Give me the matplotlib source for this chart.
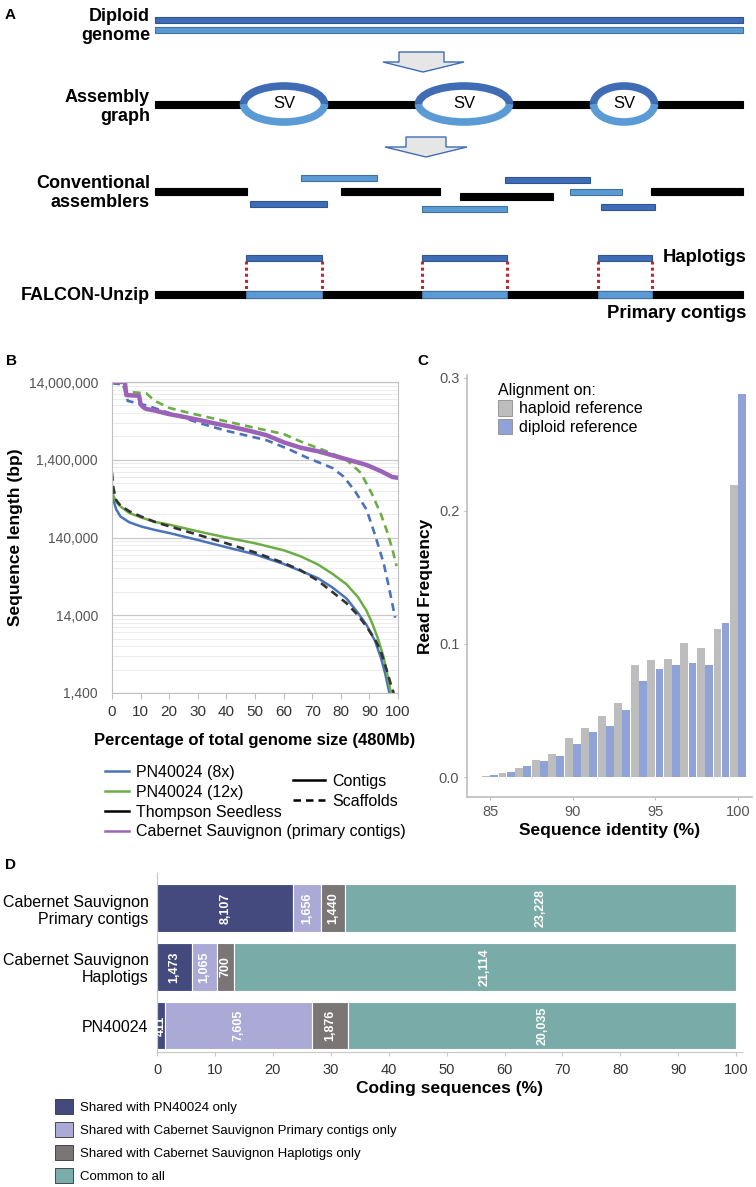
import numpy as np
import matplotlib
matplotlib.use('Agg')
import matplotlib.pyplot as plt
from matplotlib.patches import Rectangle, Arc, Polygon, Patch
from matplotlib.lines import Line2D
from matplotlib.ticker import FixedLocator, NullFormatter

plt.rcParams['font.family'] = ['Liberation Sans', 'DejaVu Sans']

W, H = 756, 1187

# ---- panel A: schematic segments (x0, x1, y centre) ----
bubbles = [(284, 81), (464, 91), (624, 61)]
conv_black = [(155, 247, 191), (341, 440, 191), (460, 553, 196), (651, 743, 191)]
conv_light = [(301, 377, 178), (422, 507, 209), (570, 622, 192)]
conv_dark = [(250, 327, 204), (505, 590, 180), (601, 655, 207)]
unzip_bubbles = [(246, 322), (422, 507), (598, 652)]

# ---- panel B: contiguity curves ----
pct_pn8_ctg = [0, 0.5, 1.5, 3, 6, 10, 15, 20, 30, 40, 50, 60, 66, 72, 77, 82, 86, 89, 92, 94, 95.5, 96.5, 97]
len_pn8_ctg = [570e3, 420e3, 320e3, 260e3, 220e3, 195e3, 175e3, 160e3, 130e3, 105e3, 85e3, 64e3, 52e3,
               42e3, 32e3, 23e3, 15e3, 10.5e3, 6.5e3, 4e3, 2.5e3, 1.7e3, 1.4e3]
pct_pn12_ctg = [0, 0.5, 1.5, 3, 6, 10, 15, 20, 30, 40, 50, 60, 66, 72, 77, 82, 86, 89, 91, 93, 95, 96.5, 97.5]
len_pn12_ctg = [660e3, 480e3, 400e3, 350e3, 290e3, 255e3, 222e3, 205e3, 168e3, 140e3, 118e3, 96e3, 80e3,
                63e3, 48e3, 35e3, 24e3, 16e3, 11e3, 7e3, 4e3, 2.2e3, 1.4e3]
pct_ts_scf = [0, 0.5, 1.5, 3, 6, 10, 15, 20, 30, 40, 50, 60, 66, 72, 77, 82, 86, 89, 92, 94, 96, 97.5, 98.5]
len_ts_scf = [950e3, 600e3, 420e3, 360e3, 305e3, 262e3, 222e3, 195e3, 152e3, 118e3, 90e3, 66e3, 53e3,
              39e3, 28e3, 20e3, 14e3, 10e3, 6.8e3, 4.8e3, 2.8e3, 1.8e3, 1.4e3]
pct_pn8_scf = [0, 4, 5.5, 12, 20, 31, 40, 54, 62, 68, 77, 81, 85, 89, 92, 95, 97, 99]
len_pn8_scf = [13.5e6, 13e6, 8e6, 7e6, 5.6e6, 4.1e6, 3.3e6, 2.5e6, 1.9e6, 1.5e6, 1.1e6, 0.85e6, 0.55e6,
               0.32e6, 0.15e6, 0.065e6, 0.03e6, 0.013e6]
pct_pn12_scf = [0, 3, 5, 12, 15, 20, 27, 35, 42, 50, 60, 66, 75, 82, 87, 91, 94, 96, 98, 99.5]
len_pn12_scf = [14e6, 14e6, 10.5e6, 10e6, 8e6, 6.5e6, 5.6e6, 4.8e6, 4.2e6, 3.6e6, 3.0e6, 2.4e6, 1.8e6,
                1.4e6, 0.95e6, 0.5e6, 0.28e6, 0.175e6, 0.1e6, 0.06e6]
pct_cs = [0, 4.5, 5, 9.5, 10, 11, 12, 15, 20, 25, 31, 36, 42, 48, 54, 60, 66, 72, 77, 82, 89, 94, 98, 100]
len_cs = [14e6, 14e6, 9.5e6, 9.3e6, 7.2e6, 6.6e6, 6.3e6, 6.0e6, 5.4e6, 5.0e6, 4.5e6, 4.1e6, 3.7e6, 3.3e6,
          2.9e6, 2.35e6, 2.0e6, 1.8e6, 1.6e6, 1.42e6, 1.2e6, 1.0e6, 0.84e6, 0.82e6]
len_ticks = [1400, 14000, 140000, 1400000, 14000000]

# ---- panel C: read identity ----
identity = np.arange(85, 101)
freq_haploid = [0.001, 0.003, 0.007, 0.0125, 0.017, 0.029, 0.037, 0.0455, 0.0555, 0.084, 0.088, 0.089,
                0.101, 0.097, 0.111, 0.219]
freq_diploid = [0.0015, 0.0035, 0.008, 0.012, 0.0155, 0.025, 0.0335, 0.038, 0.05, 0.072, 0.081, 0.084,
                0.086, 0.0845, 0.1155, 0.288]

# ---- panel D: coding sequences ----
assemblies = ['Cabernet Sauvignon\nPrimary contigs', 'Cabernet Sauvignon\nHaplotigs', 'PN40024']
cat_names = ['Shared with PN40024 only', 'Shared with Cabernet Sauvignon Primary contigs only',
             'Shared with Cabernet Sauvignon Haplotigs only', 'Common to all']
cds_counts = [[8107, 1656, 1440, 23228],
              [1473, 1065, 700, 21114],
              [411, 7605, 1876, 20035]]
cat_colors = ['#454a7e', '#abaad6', '#7b7676', '#79aba9']

DARK = '#3f6cb4'
LIGHT = '#5b9bd5'


def px_axes(x0, y0, x1, y1):
    return fig.add_axes([x0 / W, 1 - y1 / H, (x1 - x0) / W, (y1 - y0) / H])


fig = plt.figure(figsize=(W / 100, H / 100), dpi=100)

# ================= A =================
axA = px_axes(0, 0, W, 330)
axA.set_xlim(0, W)
axA.set_ylim(330, 0)
axA.axis('off')


def seg(ax, x0, x1, yc, h, color, edge=None):
    ax.add_patch(Rectangle((x0, yc - h / 2), x1 - x0, h, facecolor=color,
                           edgecolor=edge if edge else color, lw=0.8))


seg(axA, 155, 743, 20, 6, DARK, '#2f5597')
seg(axA, 155, 743, 30, 6, LIGHT, '#41719c')

# block arrows
for top, mid, tip, sl, sr, hl, hr, tx in [(52, 62, 72, 399, 444, 383, 464, 423),
                                           (137, 147, 157, 406, 446, 385, 467, 426)]:
    axA.add_patch(Polygon([(sl, top), (sr, top), (sr, mid), (hr, mid), (tx, tip), (hl, mid), (sl, mid)],
                          closed=True, facecolor='#e6e6e6', edgecolor='#3f6cb4', lw=1))

# assembly graph
ends = [155] + [v for c, w in bubbles for v in (c - w / 2, c + w / 2)] + [743]
for i in range(0, len(ends), 2):
    seg(axA, ends[i], ends[i + 1], 104, 7, 'black')
for c, w in bubbles:
    axA.add_patch(Arc((c, 104), w, 36, theta1=180, theta2=360, color=DARK, lw=5.5))
    axA.add_patch(Arc((c, 104), w, 36, theta1=0, theta2=180, color=LIGHT, lw=5.5))
    axA.text(c, 104, 'SV', ha='center', va='center', fontsize=12)

# conventional assemblers
for x0, x1, y in conv_black:
    seg(axA, x0, x1, y, 7, 'black')
for x0, x1, y in conv_light:
    seg(axA, x0, x1, y, 6, LIGHT, '#41719c')
for x0, x1, y in conv_dark:
    seg(axA, x0, x1, y, 6, DARK, '#2f5597')

# FALCON-Unzip
seg(axA, 155, 743, 294, 7, 'black')
for x0, x1 in unzip_bubbles:
    seg(axA, x0, x1, 294, 7, LIGHT, '#41719c')
    seg(axA, x0, x1, 258, 6, DARK, '#2f5597')
    for xx in (x0, x1):
        axA.plot([xx, xx], [261, 291], color='#c0282d', lw=2.2, ls=(0, (1, 1)))

lab = dict(ha='right', va='center', fontsize=13, fontweight='bold', linespacing=1.1)
axA.text(150, 26, 'Diploid\ngenome', **lab)
axA.text(150, 107, 'Assembly\ngraph', **lab)
axA.text(150, 193, 'Conventional\nassemblers', **lab)
axA.text(150, 295, 'FALCON-Unzip', **lab)
axA.text(663, 257, 'Haplotigs', ha='left', va='center', fontsize=13.3, fontweight='bold')
axA.text(746, 313, 'Primary contigs', ha='right', va='center', fontsize=13.3, fontweight='bold')
axA.text(5, 15, 'A', ha='left', va='center', fontsize=11, fontweight='bold')

# ================= B =================
axB = px_axes(112, 382, 398, 693)
blue, green, purple = '#4a73b9', '#6cae46', '#9b62b8'
axB.plot(pct_pn8_scf, len_pn8_scf, color=blue, lw=1.9, dashes=(3, 2))
axB.plot(pct_pn12_scf, len_pn12_scf, color=green, lw=1.9, dashes=(3, 2))
axB.plot(pct_cs, len_cs, color=purple, lw=3.2)
axB.plot(pct_pn8_ctg, len_pn8_ctg, color=blue, lw=1.8)
axB.plot(pct_pn12_ctg, len_pn12_ctg, color=green, lw=1.8)
axB.plot(pct_ts_scf, len_ts_scf, color='#333333', lw=1.9, dashes=(3, 2))
axB.set_yscale('log')
axB.set_ylim(1400, 14000000)
axB.set_xlim(0, 100)
axB.yaxis.set_major_locator(FixedLocator(len_ticks))
axB.yaxis.set_minor_locator(FixedLocator([t * k for t in len_ticks[:-1] for k in range(2, 10)]))
axB.yaxis.set_minor_formatter(NullFormatter())
axB.set_yticklabels([f'{t:,}' for t in len_ticks])
axB.set_xticks(range(0, 101, 10))
axB.grid(axis='y', which='major', color='#c8c8c8', lw=0.9)
axB.grid(axis='y', which='minor', color='#ececec', lw=0.7)
axB.set_axisbelow(True)
for s in axB.spines.values():
    s.set_color('#c0c0c0')
axB.tick_params(axis='y', which='both', length=0, labelsize=10, labelcolor='#555555', pad=10)
axB.tick_params(axis='x', length=4, color='#c0c0c0', labelsize=11, labelcolor='#333333', pad=5)
axB.set_xlabel('Percentage of total genome size (480Mb)', fontsize=12, fontweight='bold', labelpad=10)
axB.set_ylabel('Sequence length (bp)', fontsize=12.5, fontweight='bold', labelpad=4)
fig.text(6 / W, 1 - 361 / H, 'B', ha='left', va='center', fontsize=11, fontweight='bold')

h1 = [Line2D([], [], color=c, lw=1.8) for c in (blue, green, 'black', purple)]
fig.legend(h1, ['PN40024 (8x)', 'PN40024 (12x)', 'Thompson Seedless',
                'Cabernet Sauvignon (primary contigs)'],
           loc='upper left', bbox_to_anchor=(97 / W, 1 - 757 / H), frameon=False,
           fontsize=11.5, handlelength=1.5, handletextpad=0.45, labelspacing=0.3, borderpad=0)
h2 = [Line2D([], [], color='black', lw=1.8), Line2D([], [], color='black', lw=1.8, dashes=(3, 2))]
fig.legend(h2, ['Contigs', 'Scaffolds'], loc='upper left', bbox_to_anchor=(285 / W, 1 - 766 / H),
           frameon=False, fontsize=11.5, handlelength=2.0, handletextpad=0.45, labelspacing=0.3,
           borderpad=0)

# ================= C =================
axC = px_axes(467, 375, 752, 797)
axC.bar(identity - 0.245, freq_haploid, width=0.47, color='#bdbdbd', label='haploid reference')
axC.bar(identity + 0.245, freq_diploid, width=0.47, color='#8fa3d8', label='diploid reference')
axC.set_xlim(83.6, 100.85)
axC.set_ylim(-0.015, 0.302)
axC.set_xticks([85, 90, 95, 100])
axC.set_yticks([0.0, 0.1, 0.2, 0.3])
axC.set_yticklabels(['0.0', '0.1', '0.2', '0.3'])
for s in ('top', 'right'):
    axC.spines[s].set_visible(False)
for s in ('left', 'bottom'):
    axC.spines[s].set_color('#bdbdbd')
    axC.spines[s].set_linewidth(1.2)
axC.tick_params(length=2.5, color='#bdbdbd', labelsize=10.5, labelcolor='#555555', pad=3)
axC.set_xlabel('Sequence identity (%)', fontsize=12.5, fontweight='bold', labelpad=3)
axC.set_ylabel('Read Frequency', fontsize=12.5, fontweight='bold', labelpad=4)
hC = [Patch(facecolor='#bdbdbd', edgecolor='#8c8c8c', lw=0.6),
      Patch(facecolor='#8fa3d8', edgecolor='#8c8c8c', lw=0.6)]
axC.legend(hC, ['haploid reference', 'diploid reference'], title='Alignment on:', loc='upper left',
           bbox_to_anchor=(0.08, 1.0), frameon=False, fontsize=11.5, title_fontsize=11.5,
           handlelength=0.9, handleheight=1.1, handletextpad=0.4, labelspacing=0.15,
           alignment='left', borderpad=0)
fig.text(417 / W, 1 - 361 / H, 'C', ha='left', va='center', fontsize=11, fontweight='bold')

# ================= D =================
axD = px_axes(157, 873, 742, 1052)
counts = np.array(cds_counts, dtype=float)
pcts = counts / counts.sum(axis=1, keepdims=True) * 100
ypos = np.arange(len(assemblies))
left = np.zeros(len(assemblies))
for j in range(len(cat_names)):
    axD.barh(ypos, pcts[:, j], left=left, height=0.81, color=cat_colors[j], edgecolor='white', lw=0.8)
    for i in range(len(assemblies)):
        axD.text(left[i] + pcts[i, j] / 2, ypos[i], f'{int(counts[i, j]):,}', rotation=90,
                 ha='center', va='center', color='white', fontsize=9, fontweight='bold')
    left += pcts[:, j]
axD.set_ylim(2.45, -0.6)
axD.set_xlim(0, 101)
axD.set_xticks(range(0, 101, 10))
axD.set_yticks(ypos)
axD.set_yticklabels(assemblies, fontsize=11.5, linespacing=1.15)
for s in ('top', 'right'):
    axD.spines[s].set_visible(False)
for s in ('left', 'bottom'):
    axD.spines[s].set_color('#c8c8c8')
axD.tick_params(axis='y', length=0, pad=6)
axD.tick_params(axis='x', length=3, color='#c8c8c8', labelsize=10.5, labelcolor='#333333', pad=5)
axD.set_xlabel('Coding sequences (%)', fontsize=12.5, fontweight='bold', labelpad=3)
fig.text(5 / W, 1 - 865 / H, 'D', ha='left', va='center', fontsize=11, fontweight='bold')

hD = [Patch(facecolor=c, edgecolor='#333333', lw=0.6) for c in cat_colors]
fig.legend(hD, cat_names, loc='upper left', bbox_to_anchor=(48 / W, 1 - 1092 / H), frameon=False,
           fontsize=9.5, handlelength=1.4, handleheight=1.4, handletextpad=0.5, labelspacing=0.6,
           borderpad=0)

fig.savefig('out.png', dpi=100)
